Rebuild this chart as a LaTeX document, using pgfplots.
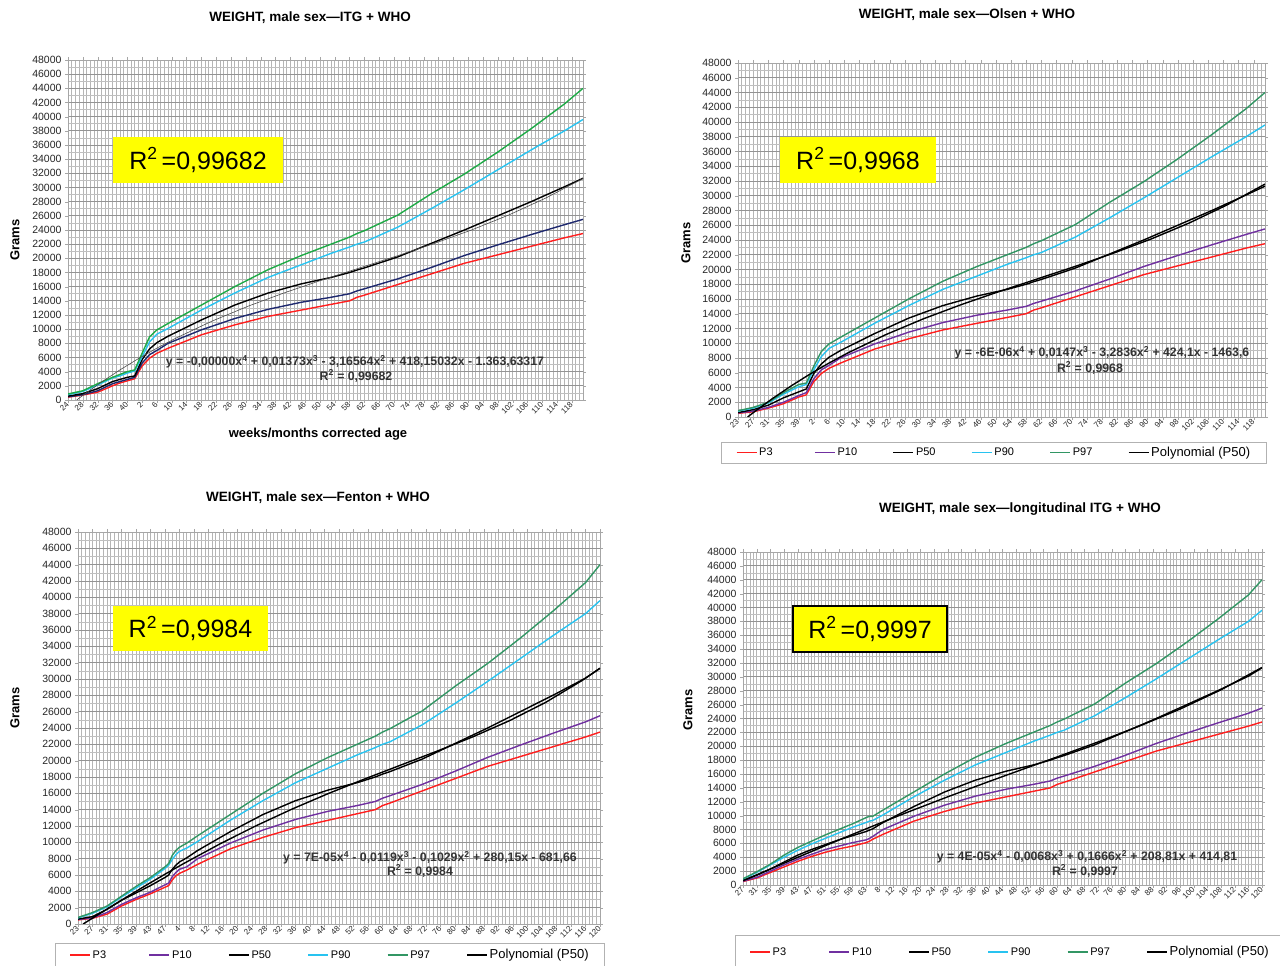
\documentclass[border=0pt]{standalone}
\usepackage{pgfplots}
\usepackage{pgfplotstable}
\pgfplotsset{compat=1.18}
\usepackage{fontspec}
\setmainfont{Liberation Sans}

\definecolor{cPthree}{RGB}{255,30,30}
\definecolor{cPten}{RGB}{112,48,160}
\definecolor{cPtenN}{RGB}{30,40,110}
\definecolor{cPninety}{RGB}{40,195,240}
\definecolor{cPnsev}{RGB}{50,150,100}
\definecolor{cPnsevG}{RGB}{30,170,70}
\definecolor{boxyellow}{RGB}{255,255,0}

% ---------- Panel 1: ITG + WHO ----------
\pgfplotstableread{
i p3 p10 p50 p90 p97
0 400 450 550 750 850
4 700 750 900 1200 1300
8 1100 1300 1600 2100 2300
12 2000 2300 2600 3100 3200
14 2400 2600 2900 3400 3600
16 2700 2900 3200 3800 4000
18 3000 3200 3400 4100 4250
20 4800 5200 5700 6100 6600
22 5900 6400 7200 8200 8900
24 6600 7000 8100 9300 9900
27 7300 8000 9000 10100 10800
36 9200 9900 11300 12700 13400
45 10600 11500 13400 15100 16000
54 11800 12800 15100 17300 18400
63 12700 13800 16400 19100 20400
71 13500 14500 17300 20700 22000
76 14000 15000 18000 21600 23000
78 14500 15400 18350 22000 23500
80 14800 15700 18650 22300 23900
89 16300 17100 20200 24400 26100
98 17800 18700 22100 27000 29100
107 19300 20400 24000 29700 31900
116 20500 21900 26000 32500 35000
125 21700 23350 28000 35300 38300
134 22900 24750 30100 38000 41800
139 23500 25500 31300 39600 44000
}\tabA
\pgfplotstableread{
i y
2.35 0
3 259
5 1034
9 2515
14 4243
19 5842
24 7325
29 8699
39 11166
49 13321
59 15243
69 17009
79 18694
89 20375
99 22125
109 24018
119 26125
129 28519
139 31268
}\polyA

% ---------- Panel 2: Olsen + WHO ----------
\pgfplotstableread{
i p3 p10 p50 p90 p97
0 500 550 600 800 850
4 700 800 1000 1200 1300
8 1200 1300 1600 1900 2000
12 1800 2000 2600 3100 3300
16 2700 2900 3400 4100 4400
18 3000 3300 3800 4400 4600
20 4800 5200 5900 6400 6900
22 5900 6400 7200 8200 8900
24 6600 7000 8100 9300 9900
27 7300 8000 9000 10100 10800
36 9200 9900 11300 12700 13400
45 10600 11500 13400 15100 16000
54 11800 12800 15100 17300 18400
63 12700 13800 16400 19100 20400
71 13500 14500 17300 20700 22000
76 14000 15000 18000 21600 23000
78 14500 15400 18350 22000 23500
80 14800 15700 18650 22300 23900
89 16300 17100 20200 24400 26100
98 17800 18700 22100 27000 29100
107 19300 20400 24000 29700 31900
116 20500 21900 26000 32500 35000
125 21700 23350 28000 35300 38300
134 22900 24750 30100 38000 41800
139 23500 25500 31300 39600 44000
}\tabB
\pgfplotstableread{
i y
2.55 0
3 181
5 966
9 2464
14 4208
19 5822
24 7314
29 8696
39 11172
49 13332
59 15259
69 17032
79 18730
89 20431
99 22210
109 24143
119 26302
129 28759
139 31584
}\polyB

% ---------- Panel 3: Fenton + WHO ----------
\pgfplotstableread{
i p3 p10 p50 p90 p97
0 500 550 600 750 800
4 700 750 900 1300 1400
8 1200 1400 1800 2100 2200
12 2200 2400 2900 3300 3400
16 3000 3200 3800 4400 4600
20 3700 3900 4700 5500 5700
24 4500 4800 5700 6800 7000
25 4700 5000 6000 7200 7400
26 5400 5800 6700 7900 8400
27 5900 6300 7200 8500 9000
28 6200 6700 7600 8900 9400
30 6600 7000 8100 9300 9900
33 7300 8000 9000 10100 10800
42 9200 9900 11300 12700 13400
51 10600 11500 13400 15100 16000
60 11800 12800 15100 17300 18400
69 12700 13800 16400 19100 20400
77 13500 14500 17300 20700 22000
82 14000 15000 18000 21600 23000
84 14500 15400 18350 22000 23500
86 14800 15700 18650 22300 23900
95 16300 17100 20200 24400 26100
104 17800 18700 22100 27000 29100
113 19300 20400 24000 29700 31900
122 20500 21900 26000 32500 35000
131 21700 23350 28000 35300 38300
140 22900 24750 30100 38000 41800
144 23500 25500 31300 39600 44000
}\tabC
\pgfplotstableread{
i y
1.4 0
2 158
4 715
9 2098
14 3461
19 4796
24 6098
29 7364
39 9771
49 12003
59 14061
69 15964
79 17744
89 19452
99 21154
109 22934
119 24888
129 27133
139 29800
144 31330
}\polyC

% ---------- Panel 4: longitudinal ITG + WHO ----------
\pgfplotstableread{
i p3 p10 p50 p90 p97
0 500 550 650 850 900
4 1000 1100 1400 1800 1900
8 1800 2000 2300 2900 3000
12 2600 2900 3300 4000 4300
16 3400 3700 4300 5000 5400
20 4100 4400 5100 5900 6300
24 4700 5100 5800 6700 7200
28 5200 5600 6500 7500 8000
32 5600 6100 7100 8300 8800
36 6100 6500 7700 9000 9700
37 6300 6700 7900 9200 9900
38 6600 7000 8100 9300 9900
41 7300 8000 9000 10100 10800
50 9200 9900 11300 12700 13400
59 10600 11500 13400 15100 16000
68 11800 12800 15100 17300 18400
77 12700 13800 16400 19100 20400
85 13500 14500 17300 20700 22000
90 14000 15000 18000 21600 23000
92 14500 15400 18350 22000 23500
94 14800 15700 18650 22300 23900
103 16300 17100 20200 24400 26100
112 17800 18700 22100 27000 29100
121 19300 20400 24000 29700 31900
130 20500 21900 26000 32500 35000
139 21700 23350 28000 35300 38300
148 22900 24750 30100 38000 41800
152 23500 25500 31300 39600 44000
}\tabD
\pgfplotstableread{
i y
0 624
8 2303
16 3982
24 5647
32 7285
40 8888
48 10451
60 12720
72 14909
80 16336
92 18461
104 20620
116 22888
128 25357
140 28139
152 31360
}\polyD

\pgfplotsset{
  sPthree/.style={cPthree, line width=1.4pt, line join=round},
  sPten/.style={cPten, line width=1.4pt, line join=round},
  sPfifty/.style={black, line width=1.4pt, line join=round},
  sPninety/.style={cPninety, line width=1.4pt, line join=round},
  sPnsev/.style={cPnsev, line width=1.4pt, line join=round},
  sPoly/.style={black, line width=1.4pt, line join=round},
  legend image code/.code={\draw[#1] (0pt,0pt) -- (20pt,0pt);},
  panel/.style={
    scale only axis,
    xmin=0, ymin=0, ymax=48000,
    ytick={0,2000,...,48000},
    minor ytick={1000,3000,...,47000},
    grid=both,
    major x grid style={gray!58, line width=0.6pt},
    minor x grid style={gray!58, line width=0.6pt},
    major y grid style={gray!85, line width=0.9pt},
    minor y grid style={gray!50, line width=0.5pt},
    axis line style={gray!70, line width=0.8pt},
    tick align=outside,
    major tick length=3pt,
    minor tick length=0pt,
    tick style={gray!70},
    scaled y ticks=false,
    /pgf/number format/1000 sep={},
    /pgf/number format/assume math mode=true,
    yticklabel style={font=\fontsize{10.5}{11}\selectfont, text=black!85},
    xticklabel style={font=\fontsize{8}{9}\selectfont, rotate=45, anchor=east, inner sep=0.5pt, text=black!85},
    title style={font=\bfseries\fontsize{13.5}{15}\selectfont},
    ylabel style={font=\bfseries\fontsize{13}{14}\selectfont},
    xlabel style={font=\bfseries\fontsize{13}{14}\selectfont},
    legend columns=6,
    legend cell align=left,
  },
  leg/.style={legend style={draw=gray!60, line width=0.8pt, inner xsep=14pt, inner ysep=#1,
      font=\fontsize{11}{12}\selectfont, anchor=center,
      /tikz/every even column/.append style={column sep=2pt}}},
}

\begin{document}
\begin{tikzpicture}
\useasboundingbox (0pt,0pt) rectangle (1280pt,966pt);

% ===== Panel 1 =====
\begin{axis}[panel,
  at={(68pt,566pt)}, anchor=south west, width=515pt, height=340pt,
  xmax=139,
  xtick={0,4,...,136},
  minor xtick={0,...,139},
  xticklabels={24,28,32,36,40,2,6,10,14,18,22,26,30,34,38,42,46,50,54,58,62,66,70,74,78,82,86,90,94,98,102,106,110,114,118},
  title={WEIGHT, male sex—ITG + WHO},
  title style={at={(axis description cs:0.470,1.1059)}, anchor=center},
  ylabel={Grams},
  ylabel style={at={(axis description cs:-0.1029,0.4706)}, anchor=center},
  xlabel={weeks/months corrected age},
  xlabel style={at={(axis description cs:0.4854,-0.1)}, anchor=center},
]
\addplot[sPthree] table[x=i,y=p3] {\tabA};
\addplot[cPtenN, line width=1.4pt, line join=round] table[x=i,y=p10] {\tabA};
\addplot[sPfifty] table[x=i,y=p50] {\tabA};
\addplot[sPninety] table[x=i,y=p90] {\tabA};
\addplot[cPnsevG, line width=1.4pt, line join=round] table[x=i,y=p97] {\tabA};
\addplot[black!70, line width=0.6pt] table[x=i,y=y] {\polyA};
\end{axis}

% ===== Panel 2 =====
\begin{axis}[panel, leg=3pt,
  at={(738pt,549pt)}, anchor=south west, width=527pt, height=354pt,
  xmax=139,
  xtick={0,4,...,136},
  minor xtick={0,...,139},
  xticklabels={23,27,31,35,39,2,6,10,14,18,22,26,30,34,38,42,46,50,54,58,62,66,70,74,78,82,86,90,94,98,102,106,110,114,118},
  title={WEIGHT, male sex—Olsen + WHO},
  title style={at={(axis description cs:0.4345,1.1186)}, anchor=center},
  ylabel={Grams},
  ylabel style={at={(axis description cs:-0.0987,0.4915)}, anchor=center},
  legend style={at={(axis description cs:0.4858,-0.1003)}},
]
\addplot[sPthree] table[x=i,y=p3] {\tabB};
\addlegendentry{\makebox[51pt][l]{P3}}
\addplot[sPten] table[x=i,y=p10] {\tabB};
\addlegendentry{\makebox[51pt][l]{P10}}
\addplot[sPfifty] table[x=i,y=p50] {\tabB};
\addlegendentry{\makebox[51pt][l]{P50}}
\addplot[sPninety] table[x=i,y=p90] {\tabB};
\addlegendentry{\makebox[51pt][l]{P90}}
\addplot[sPnsev] table[x=i,y=p97] {\tabB};
\addlegendentry{\makebox[51pt][l]{P97}}
\addplot[sPoly] table[x=i,y=y] {\polyB};
\addlegendentry{\fontsize{13}{14}\selectfont Polynomial (P50)}
\end{axis}

% ===== Panel 3 =====
\begin{axis}[panel, leg=4pt,
  at={(78pt,42pt)}, anchor=south west, width=522pt, height=392pt,
  xmax=144,
  xtick={0,4,...,144},
  minor xtick={0,...,144},
  xticklabels={23,27,31,35,39,43,47,4,8,12,16,20,24,28,32,36,40,44,48,52,56,60,64,68,72,76,80,84,88,92,96,100,104,108,112,116,120},
  title={WEIGHT, male sex—Fenton + WHO},
  title style={at={(axis description cs:0.4598,1.0714)}, anchor=center},
  ylabel={Grams},
  ylabel style={at={(axis description cs:-0.1207,0.551)}, anchor=center},
  legend style={at={(axis description cs:0.4828,-0.0791)}},
]
\addplot[sPthree] table[x=i,y=p3] {\tabC};
\addlegendentry{\makebox[52pt][l]{P3}}
\addplot[sPten] table[x=i,y=p10] {\tabC};
\addlegendentry{\makebox[52pt][l]{P10}}
\addplot[sPfifty] table[x=i,y=p50] {\tabC};
\addlegendentry{\makebox[52pt][l]{P50}}
\addplot[sPninety] table[x=i,y=p90] {\tabC};
\addlegendentry{\makebox[52pt][l]{P90}}
\addplot[sPnsev] table[x=i,y=p97] {\tabC};
\addlegendentry{\makebox[52pt][l]{P97}}
\addplot[sPoly] table[x=i,y=y] {\polyC};
\addlegendentry{\fontsize{13}{14}\selectfont Polynomial (P50)}
\end{axis}

% ===== Panel 4 =====
\begin{axis}[panel, leg=9pt,
  at={(743pt,81pt)}, anchor=south west, width=519pt, height=333pt,
  xmax=152,
  xtick={0,4,...,152},
  minor xtick={0,...,152},
  xticklabels={27,31,35,39,43,47,51,55,59,63,8,12,16,20,24,28,32,36,40,44,48,52,56,60,64,68,72,76,80,84,88,92,96,100,104,108,112,116,120},
  title={WEIGHT, male sex—longitudinal ITG + WHO},
  title style={at={(axis description cs:0.5337,1.1111)}, anchor=center},
  ylabel={Grams},
  ylabel style={at={(axis description cs:-0.106,0.5255)}, anchor=center},
  legend style={at={(axis description cs:0.5145,-0.2012)}},
]
\addplot[sPthree] table[x=i,y=p3] {\tabD};
\addlegendentry{\makebox[52pt][l]{P3}}
\addplot[sPten] table[x=i,y=p10] {\tabD};
\addlegendentry{\makebox[52pt][l]{P10}}
\addplot[sPfifty] table[x=i,y=p50] {\tabD};
\addlegendentry{\makebox[52pt][l]{P50}}
\addplot[sPninety] table[x=i,y=p90] {\tabD};
\addlegendentry{\makebox[52pt][l]{P90}}
\addplot[sPnsev] table[x=i,y=p97] {\tabD};
\addlegendentry{\makebox[52pt][l]{P97}}
\addplot[sPoly] table[x=i,y=y] {\polyD};
\addlegendentry{\fontsize{13}{14}\selectfont Polynomial (P50)}
\end{axis}

% ===== R^2 boxes =====
\node[fill=boxyellow, minimum width=170pt, minimum height=46pt, inner sep=0pt, font=\fontsize{25}{28}\selectfont] at (198pt,806pt) {R\textsuperscript{2}\,=0,99682};
\node[fill=boxyellow, minimum width=156pt, minimum height=46pt, inner sep=0pt, font=\fontsize{25}{28}\selectfont] at (858pt,806pt) {R\textsuperscript{2}\,=0,9968};
\node[fill=boxyellow, minimum width=155pt, minimum height=45pt, inner sep=0pt, font=\fontsize{25}{28}\selectfont] at (190.5pt,337.5pt) {R\textsuperscript{2}\,=0,9984};
\node[fill=boxyellow, draw=black, line width=1.5pt, minimum width=154pt, minimum height=46pt, inner sep=0pt, font=\fontsize{25}{28}\selectfont] at (870pt,337pt) {R\textsuperscript{2}\,=0,9997};

% ===== trend line equations =====
\begin{scope}[every node/.style={font=\bfseries\fontsize{12.3}{14}\selectfont, text=black!80, inner sep=0pt}]
\node at (355pt,604pt) {y = -0,00000x\textsuperscript{4} + 0,01373x\textsuperscript{3} - 3,16564x\textsuperscript{2} + 418,15032x - 1.363,63317};
\node at (356pt,590pt) {R\textsuperscript{2} = 0,99682};
\node at (1102pt,613pt) {y = -6E-06x\textsuperscript{4} + 0,0147x\textsuperscript{3} - 3,2836x\textsuperscript{2} + 424,1x - 1463,6};
\node at (1090pt,598pt) {R\textsuperscript{2} = 0,9968};
\node at (430pt,108pt) {y = 7E-05x\textsuperscript{4} - 0,0119x\textsuperscript{3} - 0,1029x\textsuperscript{2} + 280,15x - 681,66};
\node at (420pt,95pt) {R\textsuperscript{2} = 0,9984};
\node at (1087pt,109pt) {y = 4E-05x\textsuperscript{4} - 0,0068x\textsuperscript{3} + 0,1666x\textsuperscript{2} + 208,81x + 414,81};
\node at (1085pt,95pt) {R\textsuperscript{2} = 0,9997};
\end{scope}
\end{tikzpicture}
\end{document}
